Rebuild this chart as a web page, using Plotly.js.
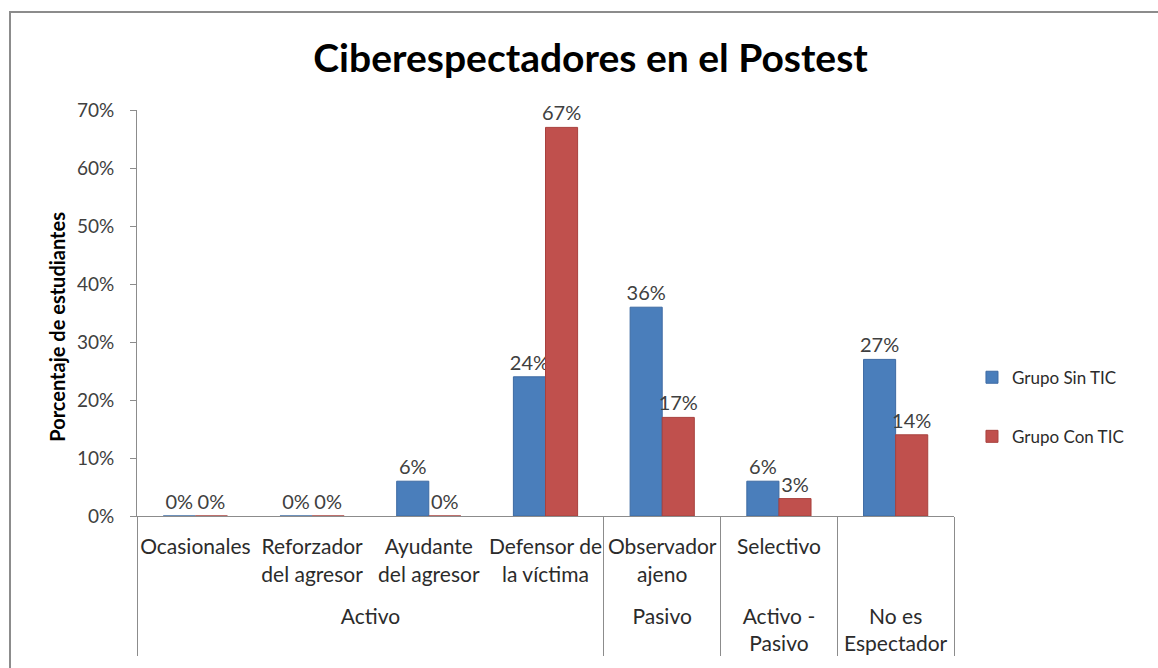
<!DOCTYPE html>
<html>
<head>
<meta charset="utf-8">
<script src="https://cdn.plot.ly/plotly-3.0.1.min.js"></script>
<style>
  html, body { margin: 0; padding: 0; background: #fff; }
  #wrap { position: relative; width: 1158px; height: 668px; overflow: hidden; }
  #chart { position: absolute; left: 0; top: 0; width: 1158px; height: 668px; }
  #frame { position: absolute; left: 9px; top: 11px; width: 1200px; height: 700px;
           border-top: 2px solid #8c8c8c; border-left: 2px solid #8c8c8c; pointer-events: none; }
</style>
</head>
<body>
<div id="wrap">
  <div id="chart"></div>
  <div id="frame"></div>
</div>
<script>
// ---- data ----
const groups = ["Activo<br> ", "Activo<br> ", "Activo<br> ", "Activo<br> ", "Pasivo<br> ", "Activo -<br>Pasivo", "No es<br>Espectador"];
const categories = ["Ocasionales<br> <br> ", "Reforzador<br>del agresor<br> ", "Ayudante<br>del agresor<br> ", "Defensor de<br>la víctima<br> ", "Observador<br>ajeno<br> ", "Selectivo<br> <br> ", " <br> <br> "];
const sinTIC = [0.00, 0.00, 0.06, 0.24, 0.36, 0.06, 0.27];
const conTIC = [0.00, 0.00, 0.00, 0.67, 0.17, 0.03, 0.14];
const seriesNames = ["Grupo Sin TIC", "Grupo Con TIC"];
const yTicks = [0, 0.1, 0.2, 0.3, 0.4, 0.5, 0.6, 0.7];
const yTitle = "Porcentaje de estudiantes";

const FONT = "Lato, 'Open Sans', sans-serif";
const xcats = [groups, categories];

const traces = [
  {
    type: "bar", name: seriesNames[0], x: xcats, y: sinTIC,
    legendgroup: "a",
    marker: { color: "#4a7ebb", line: { color: "#3d6aa3", width: 1 } },
    texttemplate: "%{y:.0%}", textposition: "outside", cliponaxis: false,
    constraintext: "none",
    textfont: { family: FONT, size: 20, color: "#404040" },
    hoverinfo: "skip"
  },
  {
    type: "bar", name: seriesNames[1], x: xcats, y: conTIC,
    legendgroup: "b",
    marker: { color: "#c0504d", line: { color: "#a8403d", width: 1 } },
    texttemplate: "%{y:.0%}", textposition: "outside", cliponaxis: false,
    constraintext: "none",
    textfont: { family: FONT, size: 20, color: "#404040" },
    hoverinfo: "skip"
  }
];

const layout = {
  width: 1158, height: 668,
  margin: { l: 137, r: 204, t: 110, b: 152, pad: 0 },
  paper_bgcolor: "#ffffff", plot_bgcolor: "#ffffff",
  font: { family: FONT, size: 20, color: "#2b2b2b" },
  title: {
    text: "<b>Ciberespectadores en el Postest</b>",
    font: { family: FONT, size: 39, color: "#000000" },
    xref: "container", x: 0.51, xanchor: "center",
    yref: "container", y: 0.913, yanchor: "middle"
  },
  barmode: "group",
  bargap: 0.45, bargroupgap: 0,
  showlegend: true,
  legend: {
    x: 1.022, xanchor: "left", y: 0.385, yanchor: "top",
    font: { family: FONT, size: 17, color: "#2b2b2b" },
    tracegroupgap: 34, bgcolor: "rgba(0,0,0,0)"
  },
  xaxis: {
    type: "multicategory",
    showline: true, linecolor: "#8c8c8c", linewidth: 1,
    ticks: "", showgrid: false, zeroline: false,
    showdividers: true, dividercolor: "#8c8c8c", dividerwidth: 1,
    tickangle: 0,
    ticklabelstandoff: 12,
    tickfont: { family: FONT, size: 21, color: "#2b2b2b" },
    automargin: false
  },
  yaxis: {
    range: [0, 0.7], tickvals: yTicks, tickformat: ".0%",
    showline: true, linecolor: "#8c8c8c", linewidth: 1,
    ticks: "outside", ticklen: 6, tickcolor: "#8c8c8c",
    ticklabelstandoff: 12,
    showgrid: false, zeroline: false,
    tickfont: { family: FONT, size: 19, color: "#404040" },
    automargin: false
  },
  annotations: [{
    text: "<b>" + yTitle + "</b>",
    xref: "paper", yref: "paper", x: -0.098, y: 0.466,
    xanchor: "center", yanchor: "middle", textangle: -90, showarrow: false,
    font: { family: FONT, size: 20, color: "#000000" }
  }]
};

Plotly.newPlot("chart", traces, layout, { staticPlot: true, displayModeBar: false });
</script>
</body>
</html>
